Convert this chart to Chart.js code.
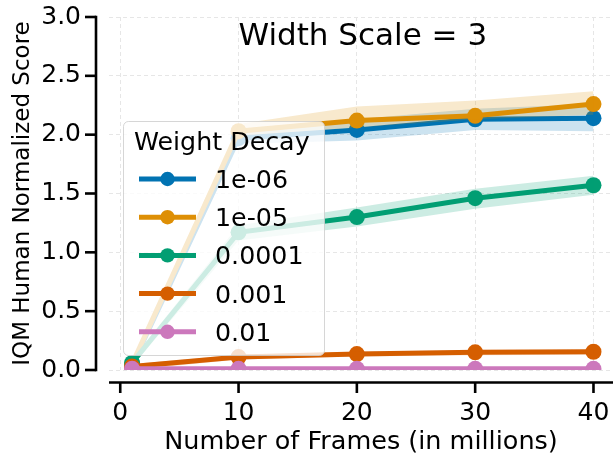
<!DOCTYPE html>
<html>
<head>
<meta charset="utf-8">
<script src="https://cdn.jsdelivr.net/npm/chart.js@4"></script>
<style>
  html, body { margin: 0; padding: 0; background: #ffffff; overflow: hidden; }
  #wrap { width: 613px; height: 455px; position: relative; }
</style>
</head>
<body>
<div id="wrap"><canvas id="c" width="613" height="455"></canvas></div>
<script>
// ---- data ----
const frames = [1, 10, 20, 30, 40];
const seriesLabels = ['1e-06', '1e-05', '0.0001', '0.001', '0.01'];
const seriesColors = ['#0173b2', '#de8f05', '#029e73', '#d55e00', '#cc78bc'];

const wd1e6   = [0.04, 1.97, 2.04, 2.13, 2.14];
const wd1e6Lo = [0.01, 1.92, 1.95, 2.04, 2.03];
const wd1e6Hi = [0.07, 2.03, 2.13, 2.22, 2.26];

const wd1e5   = [0.05, 2.03, 2.12, 2.16, 2.26];
const wd1e5Lo = [0.02, 1.99, 2.06, 2.13, 2.17];
const wd1e5Hi = [0.08, 2.09, 2.24, 2.29, 2.37];

const wd1e4   = [0.06, 1.17, 1.30, 1.46, 1.57];
const wd1e4Lo = [0.03, 1.10, 1.22, 1.37, 1.49];
const wd1e4Hi = [0.09, 1.23, 1.38, 1.54, 1.65];

const wd1e3   = [0.03, 0.11, 0.135, 0.15, 0.155];
const wd1e3Lo = [0.00, 0.09, 0.115, 0.125, 0.13];
const wd1e3Hi = [0.05, 0.13, 0.155, 0.17, 0.175];

const wd1e2   = [0.01, 0.01, 0.01, 0.01, 0.01];
const wd1e2Lo = [0.00, 0.00, 0.00, 0.00, 0.00];
const wd1e2Hi = [0.02, 0.02, 0.02, 0.02, 0.02];

const xTicks = [0, 10, 20, 30, 40];
const yTicks = [0, 0.5, 1.0, 1.5, 2.0, 2.5, 3.0];
const titleText = 'Width Scale = 3';
const legendTitle = 'Weight Decay';
const xLabel = 'Number of Frames (in millions)';
const yLabel = 'IQM Human Normalized Score';

// ---- build datasets ----
const means = [wd1e6, wd1e5, wd1e4, wd1e3, wd1e2];
const lows  = [wd1e6Lo, wd1e5Lo, wd1e4Lo, wd1e3Lo, wd1e2Lo];
const highs = [wd1e6Hi, wd1e5Hi, wd1e4Hi, wd1e3Hi, wd1e2Hi];

function rgba(hex, a) {
  const n = parseInt(hex.slice(1), 16);
  return `rgba(${(n >> 16) & 255},${(n >> 8) & 255},${n & 255},${a})`;
}
const pts = arr => frames.map((f, i) => ({ x: f, y: arr[i] }));
const CLIP = { left: 30, top: 30, right: 30, bottom: 0 };

const datasets = [];
let drawStep = 0;
seriesLabels.forEach((lab, k) => {
  const col = seriesColors[k];
  datasets.push({
    label: lab, isMain: true, data: pts(means[k]),
    borderColor: col, backgroundColor: col, borderWidth: 5,
    pointRadius: 8, pointHoverRadius: 8, pointBorderWidth: 0,
    pointBackgroundColor: col, fill: false, tension: 0,
    order: 100 - (drawStep++), clip: CLIP
  });
  datasets.push({
    label: lab + ' hi', data: pts(highs[k]),
    borderColor: 'transparent', borderWidth: 1, pointRadius: 0,
    fill: false, tension: 0, order: 100 - (drawStep++), clip: CLIP
  });
  datasets.push({
    label: lab + ' lo', data: pts(lows[k]),
    borderColor: 'transparent', borderWidth: 1, pointRadius: 0,
    backgroundColor: rgba(col, 0.2), fill: '-1', tension: 0,
    order: 100 - (drawStep++), clip: CLIP
  });
});

const FONT = 'DejaVu Sans';

const decorPlugin = {
  id: 'decor',
  afterLayout(chart) {
    // let the plot area run to the right edge of the canvas, like the reference
    const xs = chart.scales.x;
    const ca = chart.chartArea;
    xs.right = chart.width;
    xs.width = xs.right - xs.left;
    xs.configure();
    ca.right = chart.width;
    ca.width = ca.right - ca.left;
  },
  afterDatasetsDraw(chart) {
    const ctx = chart.ctx;
    const xs = chart.scales.x;
    ctx.save();
    // legend box
    const bx = 123.5, by = 121.5, bw = 201, bh = 234, r = 5;
    ctx.beginPath();
    ctx.moveTo(bx + r, by);
    ctx.arcTo(bx + bw, by, bx + bw, by + bh, r);
    ctx.arcTo(bx + bw, by + bh, bx, by + bh, r);
    ctx.arcTo(bx, by + bh, bx, by, r);
    ctx.arcTo(bx, by, bx + bw, by, r);
    ctx.closePath();
    ctx.fillStyle = 'rgba(255,255,255,0.8)';
    ctx.fill();
    ctx.strokeStyle = 'rgba(204,204,204,0.8)';
    ctx.lineWidth = 1;
    ctx.stroke();
    // legend title
    ctx.fillStyle = '#000';
    ctx.textAlign = 'left';
    ctx.textBaseline = 'alphabetic';
    ctx.font = `25.3px "${FONT}"`;
    ctx.fillText(legendTitle, 134, 149.5);
    // entries
    const mains = chart.data.datasets.filter(d => d.isMain);
    mains.forEach((d, i) => {
      const cy = 179 + i * 38.2;
      ctx.strokeStyle = d.borderColor;
      ctx.lineWidth = 5;
      ctx.lineCap = 'butt';
      ctx.beginPath();
      ctx.moveTo(139, cy);
      ctx.lineTo(196, cy);
      ctx.stroke();
      ctx.fillStyle = d.borderColor;
      ctx.beginPath();
      ctx.arc(167.5, cy, 7.2, 0, Math.PI * 2);
      ctx.fill();
      ctx.fillStyle = '#000';
      ctx.font = `25.3px "${FONT}"`;
      ctx.fillText(d.label, 215, cy + 9);
    });
    // title
    ctx.font = `31px "${FONT}"`;
    ctx.textAlign = 'center';
    ctx.fillText(titleText, xs.getPixelForValue(20.5), 45);
    ctx.restore();
  },
  afterDraw(chart) {
    const ctx = chart.ctx;
    const xs = chart.scales.x, ys = chart.scales.y;
    const ca = chart.chartArea;
    ctx.save();
    ctx.strokeStyle = '#000';
    ctx.lineWidth = 2.6;
    ctx.lineCap = 'butt';
    const ySp = 96;
    const xSp = 382.5;
    // y spine
    ctx.beginPath();
    ctx.moveTo(ySp, ys.getPixelForValue(3.0) - 1.3);
    ctx.lineTo(ySp, ys.getPixelForValue(0) + 1.3);
    ctx.stroke();
    yTicks.forEach(v => {
      const p = ys.getPixelForValue(v);
      ctx.beginPath(); ctx.moveTo(ySp - 11, p); ctx.lineTo(ySp, p); ctx.stroke();
    });
    // x spine
    ctx.beginPath();
    ctx.moveTo(ca.left, xSp);
    ctx.lineTo(chart.width, xSp);
    ctx.stroke();
    xTicks.forEach(v => {
      const p = xs.getPixelForValue(v);
      ctx.beginPath(); ctx.moveTo(p, xSp); ctx.lineTo(p, xSp + 10.5); ctx.stroke();
    });
    ctx.restore();
  }
};

function zeroPad(s) { s.paddingTop = 0; s.paddingBottom = 0; s.paddingLeft = 0; s.paddingRight = 0; }

new Chart(document.getElementById('c'), {
  type: 'line',
  data: { datasets },
  options: {
    responsive: false,
    animation: false,
    events: [],
    layout: { padding: { top: 17, left: 0, right: 0, bottom: 0 } },
    plugins: { legend: { display: false }, tooltip: { enabled: false }, title: { display: false } },
    scales: {
      x: {
        type: 'linear', min: -0.95, max: 41.65,
        afterBuildTicks: s => { s.ticks = xTicks.map(v => ({ value: v })); },
        afterFit: s => { s.height = 85; zeroPad(s); },
        grid: { color: '#e6e6e6', lineWidth: 1, drawTicks: false },
        border: { display: false, dash: [4, 3] },
        ticks: { padding: 28, color: '#000', font: { family: FONT, size: 25 }, maxRotation: 0, callback: v => String(v) },
        title: { display: true, text: xLabel, color: '#000', font: { family: FONT, size: 25.5, lineHeight: 1 }, padding: { top: 0, bottom: 0 } }
      },
      y: {
        type: 'linear', min: 0, max: 3,
        afterBuildTicks: s => { s.ticks = yTicks.map(v => ({ value: v })); },
        afterFit: s => { s.width = 109; zeroPad(s); },
        grid: { color: '#e6e6e6', lineWidth: 1, drawTicks: false },
        border: { display: false, dash: [4, 3] },
        ticks: { padding: 28, color: '#000', font: { family: FONT, size: 25 }, callback: v => v.toFixed(1) },
        title: { display: true, text: yLabel, color: '#000', font: { family: FONT, size: 23, lineHeight: 1 }, padding: { top: 12, bottom: 0 } }
      }
    }
  },
  plugins: [decorPlugin]
});
</script>
</body>
</html>
